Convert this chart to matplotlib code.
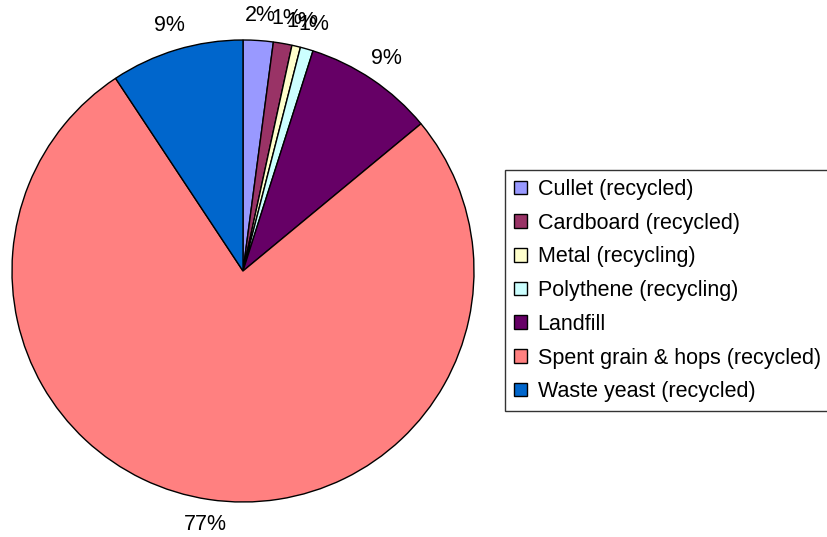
import matplotlib
matplotlib.use("Agg")
import matplotlib.pyplot as plt

plt.rcParams['font.family'] = ['Liberation Sans', 'DejaVu Sans']

labels = ['Cullet (recycled)', 'Cardboard (recycled)', 'Metal (recycling)',
          'Polythene (recycling)', 'Landfill', 'Spent grain & hops (recycled)',
          'Waste yeast (recycled)']
shares = [2.1, 1.3, 0.6, 0.9, 9.1, 76.7, 9.3]
colors = ['#9999FF', '#993366', '#FFFFCC', '#CCFFFF', '#660066', '#FF8080', '#0066CC']

fig = plt.figure(figsize=(8.28, 5.37), dpi=100)
ax = fig.add_axes([12/828, 35/537, 462/828, 462/537])

wedges, texts, autotexts = ax.pie(
    shares, colors=colors, startangle=90, counterclock=False,
    autopct='%.0f%%', pctdistance=1.11,
    wedgeprops=dict(edgecolor='black', linewidth=1.0),
    textprops=dict(fontsize=15.5, color='black'))
ax.set_xlim(-1, 1)
ax.set_ylim(-1, 1)
ax.set_aspect('equal')
for t in autotexts:
    t.set_clip_on(False)

leg = fig.legend(wedges, labels, loc='upper left',
                 bbox_to_anchor=(505/828, 1 - 170/537),
                 fontsize=15.5, frameon=True, fancybox=False,
                 handlelength=0.6, handleheight=0.6, handletextpad=0.5,
                 labelspacing=0.59, borderpad=0.42, borderaxespad=0)
leg.get_frame().set_edgecolor('black')
leg.get_frame().set_linewidth(1.0)

fig.savefig('out.png', dpi=100)
